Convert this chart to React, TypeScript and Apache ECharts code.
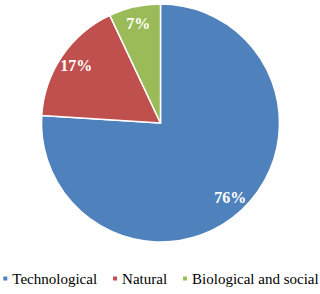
import React, { useEffect, useRef } from "react";
import * as echarts from "echarts";

const categories = ["Technological", "Natural", "Biological and social"];
const values = [76, 17, 7];
const colors = ["#4F81BD", "#C0504D", "#9BBB59"];

const SERIF = "'Liberation Serif', 'Times New Roman', serif";

export default function App() {
  const ref = useRef<HTMLDivElement>(null);
  useEffect(() => {
    document.body.style.margin = "0";
    const chart = echarts.init(ref.current!, null, { renderer: "svg" });
    const data = categories.map((name, i) => ({ name, value: values[i] }));
    chart.setOption({
      animation: false,
      color: colors,
      legend: {
        data: categories,
        top: 271,
        left: "center",
        width: 320,
        padding: 0,
        itemWidth: 6,
        itemHeight: 6,
        itemGap: 14,
        icon: "rect",
        textStyle: {
          fontFamily: SERIF,
          fontSize: 15,
          color: "#000",
          padding: [0, 0, 0, -1],
        },
      },
      series: [
        {
          type: "pie",
          center: [160.5, 123],
          radius: [0, 119],
          startAngle: 90,
          clockwise: true,
          data,
          itemStyle: { borderColor: "#fff", borderWidth: 1.5 },
          label: { show: false },
          labelLine: { show: false },
          silent: true,
        },
        {
          type: "pie",
          center: [160.5, 123],
          radius: [79, 119],
          startAngle: 90,
          clockwise: true,
          data,
          itemStyle: { color: "rgba(0,0,0,0)" },
          label: {
            show: true,
            position: "inside",
            formatter: "{c}%",
            color: "#fff",
            fontFamily: SERIF,
            fontWeight: "bold",
            fontSize: 16,
          },
          labelLine: { show: false },
          silent: true,
        },
      ],
    });
    return () => chart.dispose();
  }, []);
  return <div ref={ref} style={{ width: 320, height: 294 }} />;
}
